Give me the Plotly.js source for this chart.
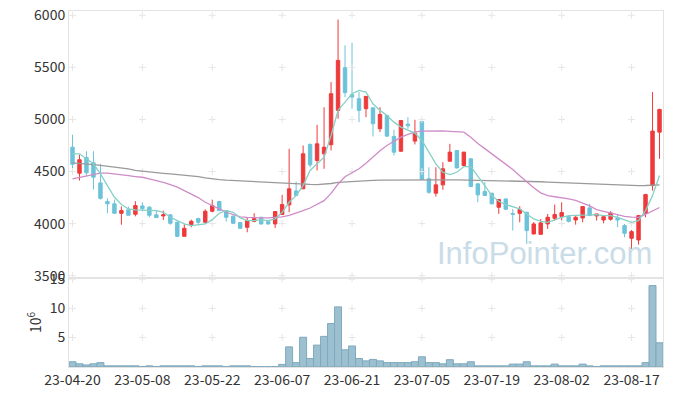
<!DOCTYPE html>
<html><head><meta charset="utf-8">
<script src="https://cdn.plot.ly/plotly-3.0.1.min.js"></script>
<style>html,body{margin:0;padding:0;background:#fff}#chart{width:673px;height:396px}</style>
</head><body><div id="chart"></div>
<script>
const dates = [
 '23-04-20','23-04-21','23-04-24','23-04-25','23-04-26','23-04-27','23-04-28',
 '23-05-02','23-05-03','23-05-04','23-05-08','23-05-09','23-05-10','23-05-11','23-05-12',
 '23-05-15','23-05-16','23-05-17','23-05-18','23-05-19','23-05-22','23-05-23','23-05-24',
 '23-05-25','23-05-26','23-05-30','23-05-31','23-06-01','23-06-02','23-06-05','23-06-07',
 '23-06-08','23-06-09','23-06-12','23-06-13','23-06-14','23-06-15','23-06-16','23-06-19',
 '23-06-20','23-06-21','23-06-22','23-06-23','23-06-26','23-06-27','23-06-28','23-06-29',
 '23-06-30','23-07-03','23-07-04','23-07-05','23-07-06','23-07-07','23-07-10','23-07-11',
 '23-07-12','23-07-13','23-07-14','23-07-17','23-07-18','23-07-19','23-07-20','23-07-21',
 '23-07-24','23-07-25','23-07-26','23-07-27','23-07-28','23-07-31','23-08-01','23-08-02',
 '23-08-03','23-08-04','23-08-07','23-08-08','23-08-09','23-08-10','23-08-11','23-08-14',
 '23-08-16','23-08-17','23-08-18','23-08-21','23-08-22','23-08-23'];

const openP = [4734,4484,4635,4584,4391,4212,4190,4099,4132,4090,4170,4157,4084,4074,4084,4013,3878,3990,4048,4013,
 4119,4212,4125,4071,4010,3965,4022,4061,4019,3997,4087,4180,4314,4334,4760,4606,4670,4757,5087,5497,
 5237,5199,5103,5112,4911,5038,4837,4695,4955,4792,4981,4430,4292,4372,4599,4702,4558,4622,4382,4308,
 4292,4157,4237,4096,4099,4109,3901,3897,3997,4051,4067,4067,4035,4054,4151,4074,4035,4042,4054,3981,
 3859,3843,4099,4365,4878];
const highP = [4853,4661,4695,4695,4574,4243,4230,4164,4164,4215,4205,4170,4125,4125,4090,4020,3994,4038,4058,4138,
 4230,4220,4125,4080,4013,4061,4100,4065,4022,4116,4276,4718,4403,4750,4770,4949,5118,5359,5959,5712,
 5737,5263,5225,5112,5118,5045,4901,4995,5022,4997,4985,4541,4541,4590,4766,4705,4690,4625,4385,4398,
 4295,4235,4240,4141,4167,4115,4015,4045,4093,4183,4205,4075,4077,4164,4190,4093,4077,4119,4087,3997,
 3939,4077,4286,5263,5103];
const lowP = [4468,4413,4462,4327,4230,4099,4099,3990,4080,4070,4118,4061,4058,4035,3990,3870,3878,3965,3984,4003,
 4109,4120,4019,3995,3950,3917,4013,3990,3990,3958,4087,4110,4270,4334,4540,4510,4526,4702,5007,5215,
 5103,4974,5022,4837,4878,4830,4654,4690,4910,4760,4423,4285,4260,4324,4599,4530,4555,4350,4205,4265,
 4185,4093,4130,3933,4013,3805,3895,3895,3949,4029,4029,4010,3990,4013,4077,4029,4003,4029,3965,3869,
 3757,3798,4061,4317,4622];
const closeP = [4570,4613,4488,4445,4243,4190,4099,4125,4080,4173,4144,4080,4058,4084,4003,3878,3955,4022,4013,4119,
 4173,4125,4061,4003,3955,4029,4048,3997,3997,4116,4183,4334,4270,4670,4564,4766,4734,5247,5567,5257,
 5215,5087,5221,4959,5048,4840,4686,4990,4940,4869,4423,4301,4372,4526,4686,4535,4686,4356,4276,4270,
 4190,4231,4138,4090,4135,3933,3997,4007,4061,4087,4106,4022,4061,4164,4077,4093,4067,4103,4035,3907,
 3923,4077,4279,4888,5096];

const ma5 = [4670,4670,4622,4574,4478,4365,4253,4183,4141,4132,4132,4125,4125,4109,4061,4029,3997,3981,3987,3997,
 4038,4100,4125,4109,4055,4029,4029,4035,4029,4045,4109,4205,4269,4365,4510,4574,4638,4846,5087,5167,
 5247,5279,5263,5151,5087,5038,4974,4926,4901,4869,4798,4686,4574,4493,4471,4493,4548,4548,4462,4365,
 4269,4215,4183,4160,4141,4093,4045,4022,4013,4035,4061,4077,4077,4083,4083,4087,4077,4077,4061,4035,
 4013,4029,4125,4269,4462];
const ma20 = [4430,4445,4458,4471,4484,4484,4478,4470,4460,4452,4445,4430,4415,4397,4375,4350,4317,4285,4250,4205,
 4170,4141,4109,4085,4065,4060,4055,4055,4055,4057,4065,4080,4100,4125,4150,4185,4221,4290,4380,4450,
 4490,4526,4580,4640,4700,4750,4790,4830,4856,4880,4888,4890,4894,4890,4886,4882,4878,4830,4770,4720,
 4670,4620,4570,4520,4460,4400,4345,4295,4268,4258,4250,4237,4222,4195,4170,4135,4118,4108,4090,4070,
 4062,4060,4088,4118,4155];
const ma60 = [4584,4580,4573,4567,4560,4552,4543,4535,4525,4512,4503,4497,4490,4483,4477,4471,4466,4462,4452,4440,
 4430,4423,4418,4414,4410,4406,4402,4398,4394,4390,4386,4382,4380,4378,4376,4375,4378,4385,4395,4400,
 4405,4410,4413,4415,4417,4418,4419,4420,4420,4420,4420,4420,4420,4420,4420,4420,4419,4418,4417,4416,
 4414,4413,4413,4412,4411,4408,4405,4402,4399,4396,4393,4390,4387,4384,4382,4379,4376,4373,4370,4368,
 4366,4365,4366,4368,4372];

const volume = [0.85,0.5,0.3,0.5,0.7,0.15,0.15,0.15,0.15,0.15,0,0.15,0,0.15,0.15,0.15,0.15,0.15,0,0.15,
 0.15,0.15,0,0.15,0.15,0.15,0,0,0,0,0.4,3.4,0.7,5.05,1.4,3.7,5.2,7.4,10.25,2.9,
 3.55,1.4,1.0,1.25,1.0,0.7,0.7,0.7,0.7,0.85,1.7,0.7,0.7,0.5,1.2,0.5,0.5,0.85,0.15,0.15,
 0.15,0.15,0.15,0.45,0.45,0.85,0.15,0.15,0.15,0.45,0.15,0.15,0.15,0.45,0.15,0,0.15,0.15,0.15,0.15,
 0.15,0.15,0.7,13.9,4.1];

const xTickDates = ['23-04-20','23-05-08','23-05-22','23-06-07','23-06-21','23-07-05','23-07-19','23-08-02','23-08-17'];
const priceTicks = [3500,4000,4500,5000,5500,6000];
const volTicks = [5,10,15];

const RED = '#ee3a3b', BLUE = '#6cc3d9';
const tickFont = {family:'"Noto Sans CJK KR", "Noto Sans", sans-serif', size:14, color:'#333'};

const crossX = [], crossY = [], crossX2 = [], crossY2 = [];
xTickDates.forEach(d => { priceTicks.forEach(v => { crossX.push(d); crossY.push(v); });
                          volTicks.forEach(v => { crossX2.push(d); crossY2.push(v); }); });

const traces = [
 {type:'candlestick', x:dates, open:openP, high:highP, low:lowP, close:closeP, xaxis:'x', yaxis:'y',
  increasing:{line:{color:RED, width:1}, fillcolor:RED},
  decreasing:{line:{color:BLUE, width:1}, fillcolor:BLUE}, whiskerwidth:0},
 {type:'bar', x:dates, y:volume, xaxis:'x2', yaxis:'y2',
  marker:{color:'#9cc0d0', line:{color:'#7fa9bd', width:1}}},
 {type:'scatter', mode:'markers', x:crossX, y:crossY, xaxis:'x', yaxis:'y', hoverinfo:'skip',
  marker:{symbol:'cross-thin', size:5, line:{width:1, color:'#e6e6e6'}}},
 {type:'scatter', mode:'markers', x:crossX2, y:crossY2, xaxis:'x2', yaxis:'y2', hoverinfo:'skip',
  marker:{symbol:'cross-thin', size:5, line:{width:1, color:'#e6e6e6'}}},
 {type:'scatter', mode:'lines', x:dates, y:ma60, xaxis:'x', yaxis:'y', line:{color:'#9a9a9a', width:1.3}, hoverinfo:'skip'},
 {type:'scatter', mode:'lines', x:dates, y:ma20, xaxis:'x', yaxis:'y', line:{color:'#cf8cc8', width:1.3}, hoverinfo:'skip'},
 {type:'scatter', mode:'lines', x:dates, y:ma5, xaxis:'x', yaxis:'y', line:{color:'#86d0c6', width:1.3}, hoverinfo:'skip'}
];

const layout = {
 width:673, height:396, showlegend:false,
 margin:{l:69, r:10, t:11, b:29},
 paper_bgcolor:'#fff', plot_bgcolor:'#fff',
 bargap:0,
 xaxis:{type:'category', categoryorder:'array', categoryarray:dates, domain:[0,1], anchor:'y', range:[-0.5,84.5], showticklabels:false,
        showgrid:false, zeroline:false, showline:true, mirror:true, linecolor:'#e3e3e3', linewidth:1,
        rangeslider:{visible:false}, fixedrange:true},
 yaxis:{domain:[0.25,1], anchor:'x', range:[3478,6041], tickmode:'array', tickvals:priceTicks,
        showgrid:false, zeroline:false, showline:true, mirror:true, linecolor:'#e3e3e3', linewidth:1,
        tickfont:tickFont, ticks:'', ticklen:0},
 xaxis2:{type:'category', categoryorder:'array', categoryarray:dates, domain:[0,1], anchor:'y2', range:[-0.5,84.5], tickmode:'array', tickvals:xTickDates,
         showgrid:false, zeroline:false, showline:true, mirror:true, linecolor:'#e3e3e3', linewidth:1,
         tickfont:tickFont, ticks:'', tickangle:0},
 yaxis2:{domain:[0,0.25], anchor:'x2', range:[-0.05,15.2], tickmode:'array', tickvals:volTicks,
         showgrid:false, zeroline:false, showline:true, mirror:true, linecolor:'#e3e3e3', linewidth:1,
         tickfont:tickFont, ticks:'',
         title:{text:'10<sup>6</sup>', font:tickFont, standoff:4}},
 annotations:[{text:'InfoPointer.com', xref:'paper', yref:'paper', x:0.801, y:0.318,
   xanchor:'center', yanchor:'middle', showarrow:false,
   font:{family:'"Liberation Sans", Arial, sans-serif', size:31, color:'#c9dce7'}}]
};

Plotly.newPlot('chart', traces, layout, {staticPlot:true, displayModeBar:false});
</script></body></html>
